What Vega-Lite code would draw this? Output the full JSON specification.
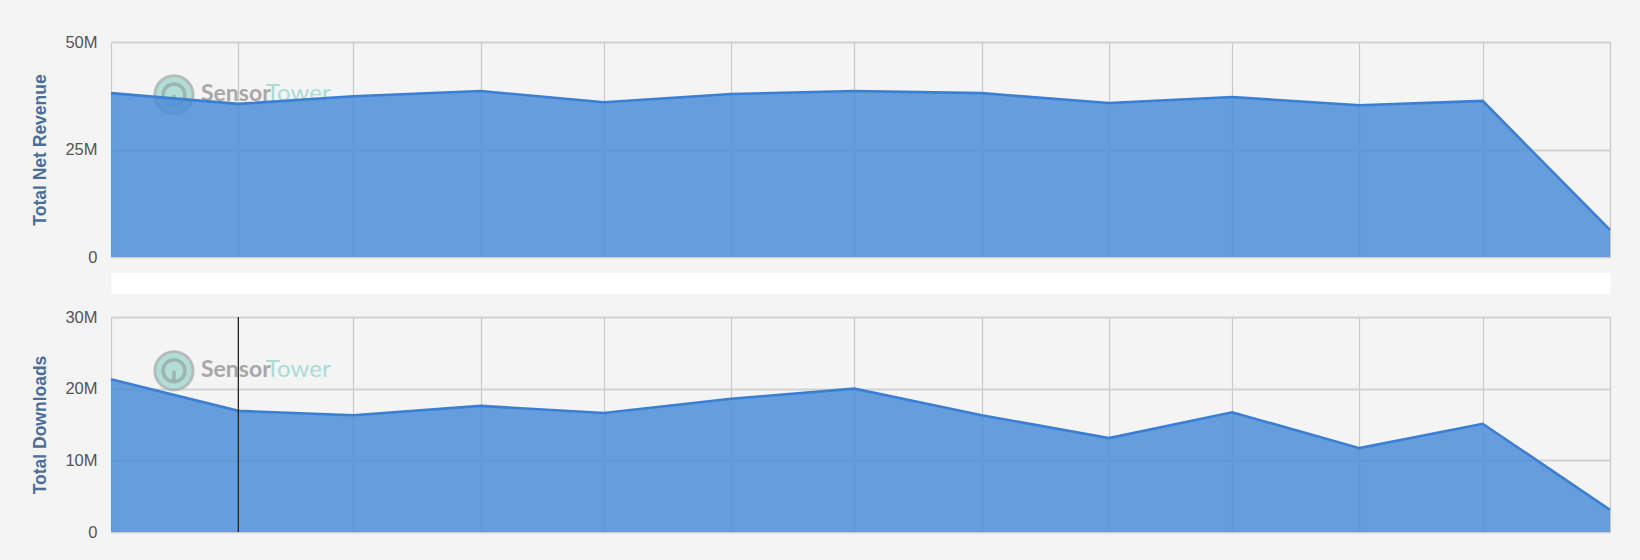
{
  "$schema": "https://vega.github.io/schema/vega-lite/v6.json",
  "background": "#f4f4f4",
  "padding": {"left": 30, "top": 33, "right": 33, "bottom": 29},
  "datasets": {
    "monthly": [
      {"month": "2017-01-01", "revenue": 38100000, "downloads": 21300000},
      {"month": "2017-02-01", "revenue": 35600000, "downloads": 16900000},
      {"month": "2017-03-01", "revenue": 37400000, "downloads": 16300000},
      {"month": "2017-04-01", "revenue": 38600000, "downloads": 17600000},
      {"month": "2017-05-01", "revenue": 36000000, "downloads": 16600000},
      {"month": "2017-06-01", "revenue": 37900000, "downloads": 18600000},
      {"month": "2017-07-01", "revenue": 38600000, "downloads": 20000000},
      {"month": "2017-08-01", "revenue": 38100000, "downloads": 16300000},
      {"month": "2017-09-01", "revenue": 35800000, "downloads": 13100000},
      {"month": "2017-10-01", "revenue": 37200000, "downloads": 16700000},
      {"month": "2017-11-01", "revenue": 35300000, "downloads": 11700000},
      {"month": "2017-12-01", "revenue": 36300000, "downloads": 15100000},
      {"month": "2018-01-01", "revenue": 6300000, "downloads": 3100000}
    ],
    "marker": [{"kind": "watermark"}]
  },
  "vconcat": [
    {
      "width": 1499,
      "height": 215,
      "layer": [
        {
          "data": {"name": "marker"},
          "mark": {"type": "point", "shape": "circle", "filled": true, "size": 1450, "color": "#a3d9d1", "opacity": 0.8, "stroke": "#a4b0ae", "strokeWidth": 3},
          "encoding": {
            "x": {"datum": {"year": 2017, "month": 1, "date": 16, "hours": 8, "utc": true}, "type": "temporal"},
            "y": {"datum": 37700000, "type": "quantitative"}
          }
        },
        {
          "data": {"name": "marker"},
          "mark": {"type": "point", "shape": "circle", "filled": false, "size": 480, "color": "#98a6a4", "opacity": 0.75, "strokeWidth": 3.5},
          "encoding": {
            "x": {"datum": {"year": 2017, "month": 1, "date": 16, "hours": 8, "utc": true}, "type": "temporal"},
            "y": {"datum": 37700000, "type": "quantitative"}
          }
        },
        {
          "data": {"name": "marker"},
          "mark": {"type": "point", "shape": "M0,0L0,1", "filled": false, "size": 360, "color": "#98a6a4", "opacity": 0.75, "strokeWidth": 3.5},
          "encoding": {
            "x": {"datum": {"year": 2017, "month": 1, "date": 16, "hours": 8, "utc": true}, "type": "temporal"},
            "y": {"datum": 37700000, "type": "quantitative"}
          }
        },
        {
          "data": {"name": "marker"},
          "mark": {"type": "text", "text": "Sensor", "align": "left", "baseline": "middle", "font": "Lato", "fontSize": 23, "fontWeight": "bold", "color": "#a0a0a0", "opacity": 0.9},
          "encoding": {
            "x": {"datum": {"year": 2017, "month": 1, "date": 22, "hours": 22, "utc": true}, "type": "temporal"},
            "y": {"datum": 37900000, "type": "quantitative"}
          }
        },
        {
          "data": {"name": "marker"},
          "mark": {"type": "text", "text": "Tower", "align": "left", "baseline": "middle", "font": "Lato", "fontSize": 24, "color": "#a6dbd4", "opacity": 0.95},
          "encoding": {
            "x": {"datum": {"year": 2017, "month": 2, "date": 7, "hours": 17, "utc": true}, "type": "temporal"},
            "y": {"datum": 37900000, "type": "quantitative"}
          }
        },
        {
          "data": {"name": "monthly"},
          "mark": {"type": "area", "color": "#4b8dd8", "opacity": 0.85, "line": {"color": "#3a7fd4", "strokeWidth": 2.6}},
          "encoding": {
            "x": {
              "field": "month",
              "type": "temporal",
              "scale": {"type": "utc", "domain": [{"year": 2017, "month": 1, "date": 1, "utc": true}, {"year": 2018, "month": 1, "date": 1, "utc": true}]},
              "axis": {"title": null, "labels": false, "ticks": false, "grid": true, "domain": true, "domainColor": "white", "domainWidth": 21, "offset": 26, "tickCount": {"interval": "month", "step": 1}}
            },
            "y": {
              "field": "revenue",
              "type": "quantitative",
              "title": "Total Net Revenue",
              "scale": {"domain": [0, 50000000], "nice": false},
              "axis": {"grid": true, "values": [0, 25000000, 50000000], "labelExpr": "datum.value == 0 ? '0' : format(datum.value / 1000000, 'd') + 'M'", "titleX": -71, "titleY": 107.5, "titleAngle": -90, "titleAlign": "center", "titleBaseline": "middle"}
            }
          }
        }
      ]
    },
    {
      "width": 1499,
      "height": 215,
      "layer": [
        {
          "data": {"name": "marker"},
          "mark": {"type": "point", "shape": "circle", "filled": true, "size": 1450, "color": "#a3d9d1", "opacity": 0.8, "stroke": "#a4b0ae", "strokeWidth": 3},
          "encoding": {
            "x": {"datum": {"year": 2017, "month": 1, "date": 16, "hours": 8, "utc": true}, "type": "temporal"},
            "y": {"datum": 22500000, "type": "quantitative"}
          }
        },
        {
          "data": {"name": "marker"},
          "mark": {"type": "point", "shape": "circle", "filled": false, "size": 480, "color": "#98a6a4", "opacity": 0.75, "strokeWidth": 3.5},
          "encoding": {
            "x": {"datum": {"year": 2017, "month": 1, "date": 16, "hours": 8, "utc": true}, "type": "temporal"},
            "y": {"datum": 22500000, "type": "quantitative"}
          }
        },
        {
          "data": {"name": "marker"},
          "mark": {"type": "point", "shape": "M0,0L0,1", "filled": false, "size": 360, "color": "#98a6a4", "opacity": 0.75, "strokeWidth": 3.5},
          "encoding": {
            "x": {"datum": {"year": 2017, "month": 1, "date": 16, "hours": 8, "utc": true}, "type": "temporal"},
            "y": {"datum": 22500000, "type": "quantitative"}
          }
        },
        {
          "data": {"name": "marker"},
          "mark": {"type": "text", "text": "Sensor", "align": "left", "baseline": "middle", "font": "Lato", "fontSize": 23, "fontWeight": "bold", "color": "#a0a0a0", "opacity": 0.9},
          "encoding": {
            "x": {"datum": {"year": 2017, "month": 1, "date": 22, "hours": 22, "utc": true}, "type": "temporal"},
            "y": {"datum": 22600000, "type": "quantitative"}
          }
        },
        {
          "data": {"name": "marker"},
          "mark": {"type": "text", "text": "Tower", "align": "left", "baseline": "middle", "font": "Lato", "fontSize": 24, "color": "#a6dbd4", "opacity": 0.95},
          "encoding": {
            "x": {"datum": {"year": 2017, "month": 2, "date": 7, "hours": 17, "utc": true}, "type": "temporal"},
            "y": {"datum": 22600000, "type": "quantitative"}
          }
        },
        {
          "data": {"name": "monthly"},
          "mark": {"type": "area", "color": "#4b8dd8", "opacity": 0.85, "line": {"color": "#3a7fd4", "strokeWidth": 2.6}},
          "encoding": {
            "x": {
              "field": "month",
              "type": "temporal",
              "scale": {"type": "utc", "domain": [{"year": 2017, "month": 1, "date": 1, "utc": true}, {"year": 2018, "month": 1, "date": 1, "utc": true}]},
              "axis": {"title": null, "labels": false, "ticks": false, "grid": true, "domain": false, "tickCount": {"interval": "month", "step": 1}}
            },
            "y": {
              "field": "downloads",
              "type": "quantitative",
              "title": "Total Downloads",
              "scale": {"domain": [0, 30000000], "nice": false},
              "axis": {"grid": true, "values": [0, 10000000, 20000000, 30000000], "labelExpr": "datum.value == 0 ? '0' : format(datum.value / 1000000, 'd') + 'M'", "titleX": -71, "titleY": 107.5, "titleAngle": -90, "titleAlign": "center", "titleBaseline": "middle"}
            }
          }
        },
        {
          "data": {"name": "marker"},
          "mark": {"type": "rule", "color": "#1a1a1a", "strokeWidth": 1.2},
          "encoding": {
            "x": {"datum": {"year": 2017, "month": 2, "date": 1, "utc": true}, "type": "temporal"}
          }
        }
      ]
    }
  ],
  "spacing": 60,
  "bounds": "flush",
  "config": {
    "view": {"fill": "#f4f4f4", "stroke": "#c6d4e4", "strokeWidth": 1},
    "axisX": {"gridColor": "#c8c8c8", "gridOpacity": 1, "gridWidth": 1.2},
    "axisY": {
      "gridColor": "#d2d2d2", "gridOpacity": 1, "gridWidth": 2,
      "domain": false, "ticks": false,
      "labelFont": "Liberation Sans", "labelFontSize": 16.5, "labelColor": "#555555", "labelPadding": 14,
      "titleFont": "Liberation Sans", "titleFontSize": 17.5, "titleFontWeight": "bold", "titleColor": "#4a6e98"
    }
  }
}
